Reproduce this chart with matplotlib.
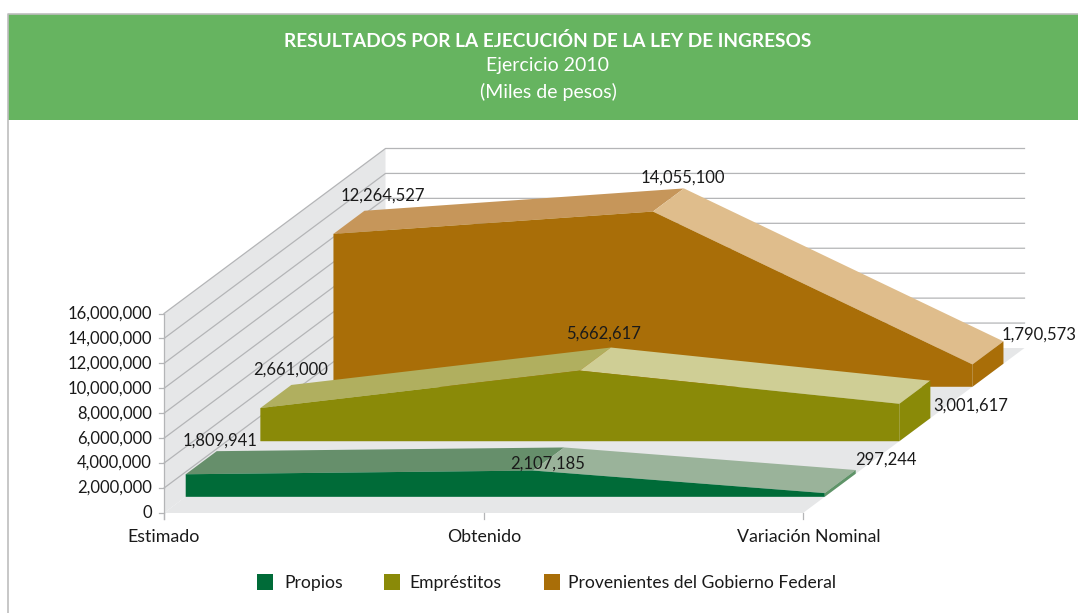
import matplotlib
matplotlib.use('Agg')
import matplotlib.pyplot as plt
from matplotlib.patches import Polygon, Rectangle

plt.rcParams['font.family'] = ['Lato', 'DejaVu Sans']

# ---- data ----
categories = ['Estimado', 'Obtenido', 'Variación Nominal']
propios = [1809941, 2107185, 297244]
emprestitos = [2661000, 5662617, 3001617]
federal = [12264527, 14055100, 1790573]
series_names = ['Propios', 'Empréstitos', 'Provenientes del Gobierno Federal']
y_ticks = [0, 2000000, 4000000, 6000000, 8000000, 10000000, 12000000, 14000000, 16000000]

# ---- estilo ----
front_colors = ['#006B38', '#8A8A08', '#A96E08']
top1_colors = ['#668F6B', '#B0AF5F', '#C6965A']
top2_colors = ['#9AB39A', '#CFCE95', '#DFBD8C']
side_colors = ['#5F9468', '#8A8A08', '#A96E08']
depth_start = [0.098, 0.435, 0.765]
mid_shift = [28, 0, 0]  # el quiebre de Propios esta corrido en el original
depth_size = 0.14
wall_color = '#E6E7E8'
grid_color = '#B4B5B7'
text_color = '#1A1A1A'

# proyeccion del grafico 3D a pixeles
X0, Y0 = 164, 513
WIDTH = 639
HEIGHT = 199.5
DX, DY = 221.5, -165


def proj(cat, value, depth, shift=0):
    x = X0 + cat / (len(categories) - 1) * WIDTH + depth * DX + shift
    y = Y0 - value / y_ticks[-1] * HEIGHT + depth * DY
    return x, y


fig = plt.figure(figsize=(10.78, 6.13), dpi=100)
ax = fig.add_axes([0, 0, 1, 1])
ax.set_xlim(0, 1078)
ax.set_ylim(613, 0)
ax.axis('off')

# encabezado
ax.add_patch(Rectangle((8, 14), 1070, 106, color='#66B460', lw=0))
ax.plot([7.5, 7.5, 1078], [613, 13.5, 13.5], color='#BDBDBD', lw=1.2)
ax.text(548, 41, 'RESULTADOS POR LA EJECUCIÓN DE LA LEY DE INGRESOS', color='white',
        fontsize=13.7, fontweight='bold', ha='center', va='center')
ax.text(548, 65.5, 'Ejercicio 2010', color='white', fontsize=14, ha='center', va='center')
ax.text(548, 91.5, '(Miles de pesos)', color='white', fontsize=14, ha='center', va='center')

# piso y pared
ax.add_patch(Polygon([proj(0, 0, 0), proj(2, 0, 0), proj(2, 0, 1), proj(0, 0, 1)],
                     color=wall_color, lw=0, zorder=1))
ax.add_patch(Polygon([proj(0, 0, 0), proj(0, 0, 1), proj(0, y_ticks[-1], 1), proj(0, y_ticks[-1], 0)],
                     color=wall_color, lw=0, zorder=1))

# lineas de la reticula
for t in y_ticks:
    a = proj(0, t, 0)
    b = proj(0, t, 1)
    c = proj(2, t, 1)
    if t > 0:
        ax.plot([a[0], b[0], c[0]], [a[1], b[1], c[1]], color=grid_color, lw=0.9, zorder=2)
    ax.plot([a[0] - 5, a[0]], [a[1], a[1]], color=grid_color, lw=0.9, zorder=2)
    ax.text(152, a[1], f'{t:,}', ha='right', va='center', fontsize=12, color=text_color)

ax.plot([X0, X0], [Y0 - HEIGHT, Y0 + 6], color=grid_color, lw=0.9, zorder=2)
for i, cat in enumerate(categories):
    px, py = proj(i, 0, 0)
    ax.plot([px, px], [py, py + 6], color=grid_color, lw=0.9, zorder=2)
    ax.text(px + [0, 1, 6][i], 536.5, cat, ha='center', va='center', fontsize=12.8, color=text_color)

# areas, de atras hacia adelante
all_series = [propios, emprestitos, federal]
z = 3
for s in [2, 1, 0]:
    vals = all_series[s]
    d0 = depth_start[s]
    d1 = d0 + depth_size
    shifts = [0, mid_shift[s], 0]
    for i in range(2):
        color = top1_colors[s] if i == 0 else top2_colors[s]
        ax.add_patch(Polygon([proj(i, vals[i], d0, shifts[i]), proj(i + 1, vals[i + 1], d0, shifts[i + 1]),
                              proj(i + 1, vals[i + 1], d1, shifts[i + 1]), proj(i, vals[i], d1, shifts[i])],
                             color=color, lw=0, zorder=z))
    ax.add_patch(Polygon([proj(2, 0, d0), proj(2, 0, d1), proj(2, vals[2], d1), proj(2, vals[2], d0)],
                         color=side_colors[s], lw=0, zorder=z))
    face = [proj(0, 0, d0)] + [proj(i, vals[i], d0, shifts[i]) for i in range(3)] + [proj(2, 0, d0)]
    ax.add_patch(Polygon(face, color=front_colors[s], lw=0, zorder=z))
    z += 1

# etiquetas de valores (desplazamiento en pixeles respecto a la esquina posterior)
label_offsets = [[(3, -11), (11, 16), (30, -10)],
                 [(-1, -15), (-7, -14), (40, 25)],
                 [(18, -15), (-1, -11), (36, -7)]]
for s in range(3):
    for i in range(3):
        px, py = proj(i, all_series[s][i], depth_start[s] + depth_size)
        ox, oy = label_offsets[s][i]
        ax.text(px + ox, py + oy, f'{all_series[s][i]:,}', ha='center', va='center',
                fontsize=12, color=text_color, zorder=10)

# leyenda
legend_x = [257, 384, 544]
text_x = [284, 409, 568]
for i, name in enumerate(series_names):
    ax.add_patch(Rectangle((legend_x[i], 574), 16, 16, color=front_colors[i], lw=0))
    ax.text(text_x[i], 583, name, ha='left', va='center', fontsize=12.65, color=text_color)

fig.savefig('out.png', dpi=100)
